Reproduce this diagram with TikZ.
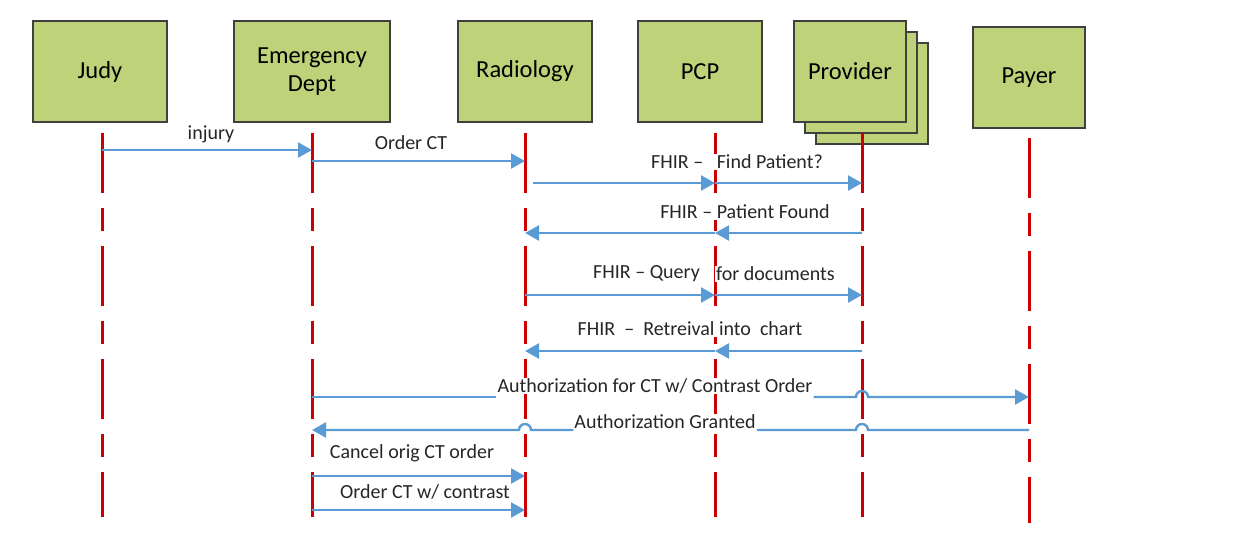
\documentclass[tikz,border=0pt]{standalone}
\usepackage{fontspec}
\setmainfont{Carlito}
\usetikzlibrary{arrows.meta}

\definecolor{boxgreen}{RGB}{190,210,122}
\definecolor{boxedge}{RGB}{64,64,64}
\definecolor{lifered}{RGB}{204,0,0}
\definecolor{msgblue}{RGB}{91,155,213}

\tikzset{
    actor/.style={draw=boxedge, fill=boxgreen, line width=1.2pt, inner sep=0pt,
        minimum height=101pt, align=center, font=\fontsize{24.5}{28}\selectfont},
    lifeline/.style={draw=lifered, line width=3pt,
        dash pattern=on 60pt off 15pt on 23pt off 15pt},
    msgline/.style={draw=msgblue, line width=2.4pt},
    msg/.style={msgline, -{Triangle[length=14pt,width=15pt]}},
    lbl/.style={fill=white, inner sep=1pt, font=\fontsize{20}{24}\selectfont, text=black!85}
}

\begin{document}
\begin{tikzpicture}[x=1pt,y=-1pt]

    \useasboundingbox (0,0) rectangle (1233,557);

    % actors
    \node[actor, minimum width=134pt] (judy) at (100,71.5) {Judy};
    \node[actor, minimum width=156pt] (ed) at (312,71.5) {Emergency\\Dept};
    \node[actor, minimum width=134pt] (rad) at (525,71.5) {Radiology};
    \node[actor, minimum width=124pt] (pcp) at (700,71.5) {PCP};
    \node[actor, minimum width=112pt] (provB) at (872,93.5) {};
    \node[actor, minimum width=112pt] (provM) at (861,82.5) {};
    \node[actor, minimum width=112pt] (prov) at (850,71.5) {Provider};
    \node[actor, minimum width=112pt] (payer) at (1029,77.5) {Payer};

    % lifelines
    \coordinate (judyS) at (102,133);  \coordinate (judyE) at (102,517);
    \coordinate (edS) at (312,133);    \coordinate (edE) at (312,517);
    \coordinate (radS) at (525,133);   \coordinate (radE) at (525,517);
    \coordinate (pcpS) at (715,133);   \coordinate (pcpE) at (715,517);
    \coordinate (provS) at (862,133);  \coordinate (provE) at (862,517);
    \coordinate (payerS) at (1029,138); \coordinate (payerE) at (1029,523);

    \draw[lifeline] (judyS) -- (judyE);
    \draw[lifeline] (edS) -- (edE);
    \draw[lifeline] (radS) -- (radE);
    \draw[lifeline] (pcpS) -- (pcpE);
    \draw[lifeline] (provS) -- (provE);
    \draw[lifeline] (payerS) -- (payerE);

    % message levels
    \coordinate (m1) at (0,150);
    \coordinate (m2) at (0,161);
    \coordinate (m3) at (0,183);
    \coordinate (m4) at (0,233);
    \coordinate (m5) at (0,295);
    \coordinate (m6) at (0,351);
    \coordinate (m7) at (0,397);
    \coordinate (m8) at (0,430);
    \coordinate (m9) at (0,476);
    \coordinate (m10) at (0,510);

    % labels
    \node[lbl] (injuryL) at (211,134) {injury};
    \node[lbl] (orderL) at (411,143) {Order CT};
    \node[lbl] (findL) at (737,162) {FHIR –\ \ \ Find Patient?};
    \node[lbl] (foundL) at (745,212) {FHIR – Patient Found};
    \node[lbl, anchor=east] (queryL) at (701,274) {FHIR – Query};
    \node[lbl, anchor=west] (docsL) at (715,274) {for documents};
    \node[lbl] (fetchL) at (690,329) {FHIR\ \ –\ \ Retreival into\ \ chart};
    \node[lbl] (authL) at (655,386) {Authorization for CT w/ Contrast Order};
    \node[lbl] (grantL) at (665,422) {Authorization Granted};
    \node[lbl] (cancelL) at (412,453) {Cancel orig CT order};
    \node[lbl] (contrastL) at (425,492) {Order CT w/ contrast};

    % messages
    \draw[msg] (judyS |- m1) -- (edS |- m1);
    \draw[msg] (edS |- m2) -- (radS |- m2);

    \draw[msg] ([xshift=8pt]radS |- m3) -- (pcpS |- m3);
    \draw[msg] (pcpS |- m3) -- (provS |- m3);

    \draw[msg] (provS |- m4) -- (pcpS |- m4);
    \draw[msg] (pcpS |- m4) -- (radS |- m4);

    \draw[msg] (radS |- m5) -- (pcpS |- m5);
    \draw[msg] (pcpS |- m5) -- (provS |- m5);

    \draw[msg] (provS |- m6) -- (pcpS |- m6);
    \draw[msg] (pcpS |- m6) -- (radS |- m6);

    \draw[msgline] (edS |- m7) -- (authL.west |- m7);
    \draw[msg] (authL.east |- m7) -- ([xshift=-6pt]provS |- m7)
        arc[start angle=180, end angle=0, radius=6pt] -- (payerS |- m7);

    \draw[msgline] (payerS |- m8) -- ([xshift=6pt]provS |- m8)
        arc[start angle=0, end angle=180, radius=6pt] -- (grantL.east |- m8);
    \draw[msg] (grantL.west |- m8) -- ([xshift=6pt]radS |- m8)
        arc[start angle=0, end angle=180, radius=6pt] -- (edS |- m8);

    \draw[msg] (edS |- m9) -- (radS |- m9);
    \draw[msg] (edS |- m10) -- (radS |- m10);

\end{tikzpicture}
\end{document}
